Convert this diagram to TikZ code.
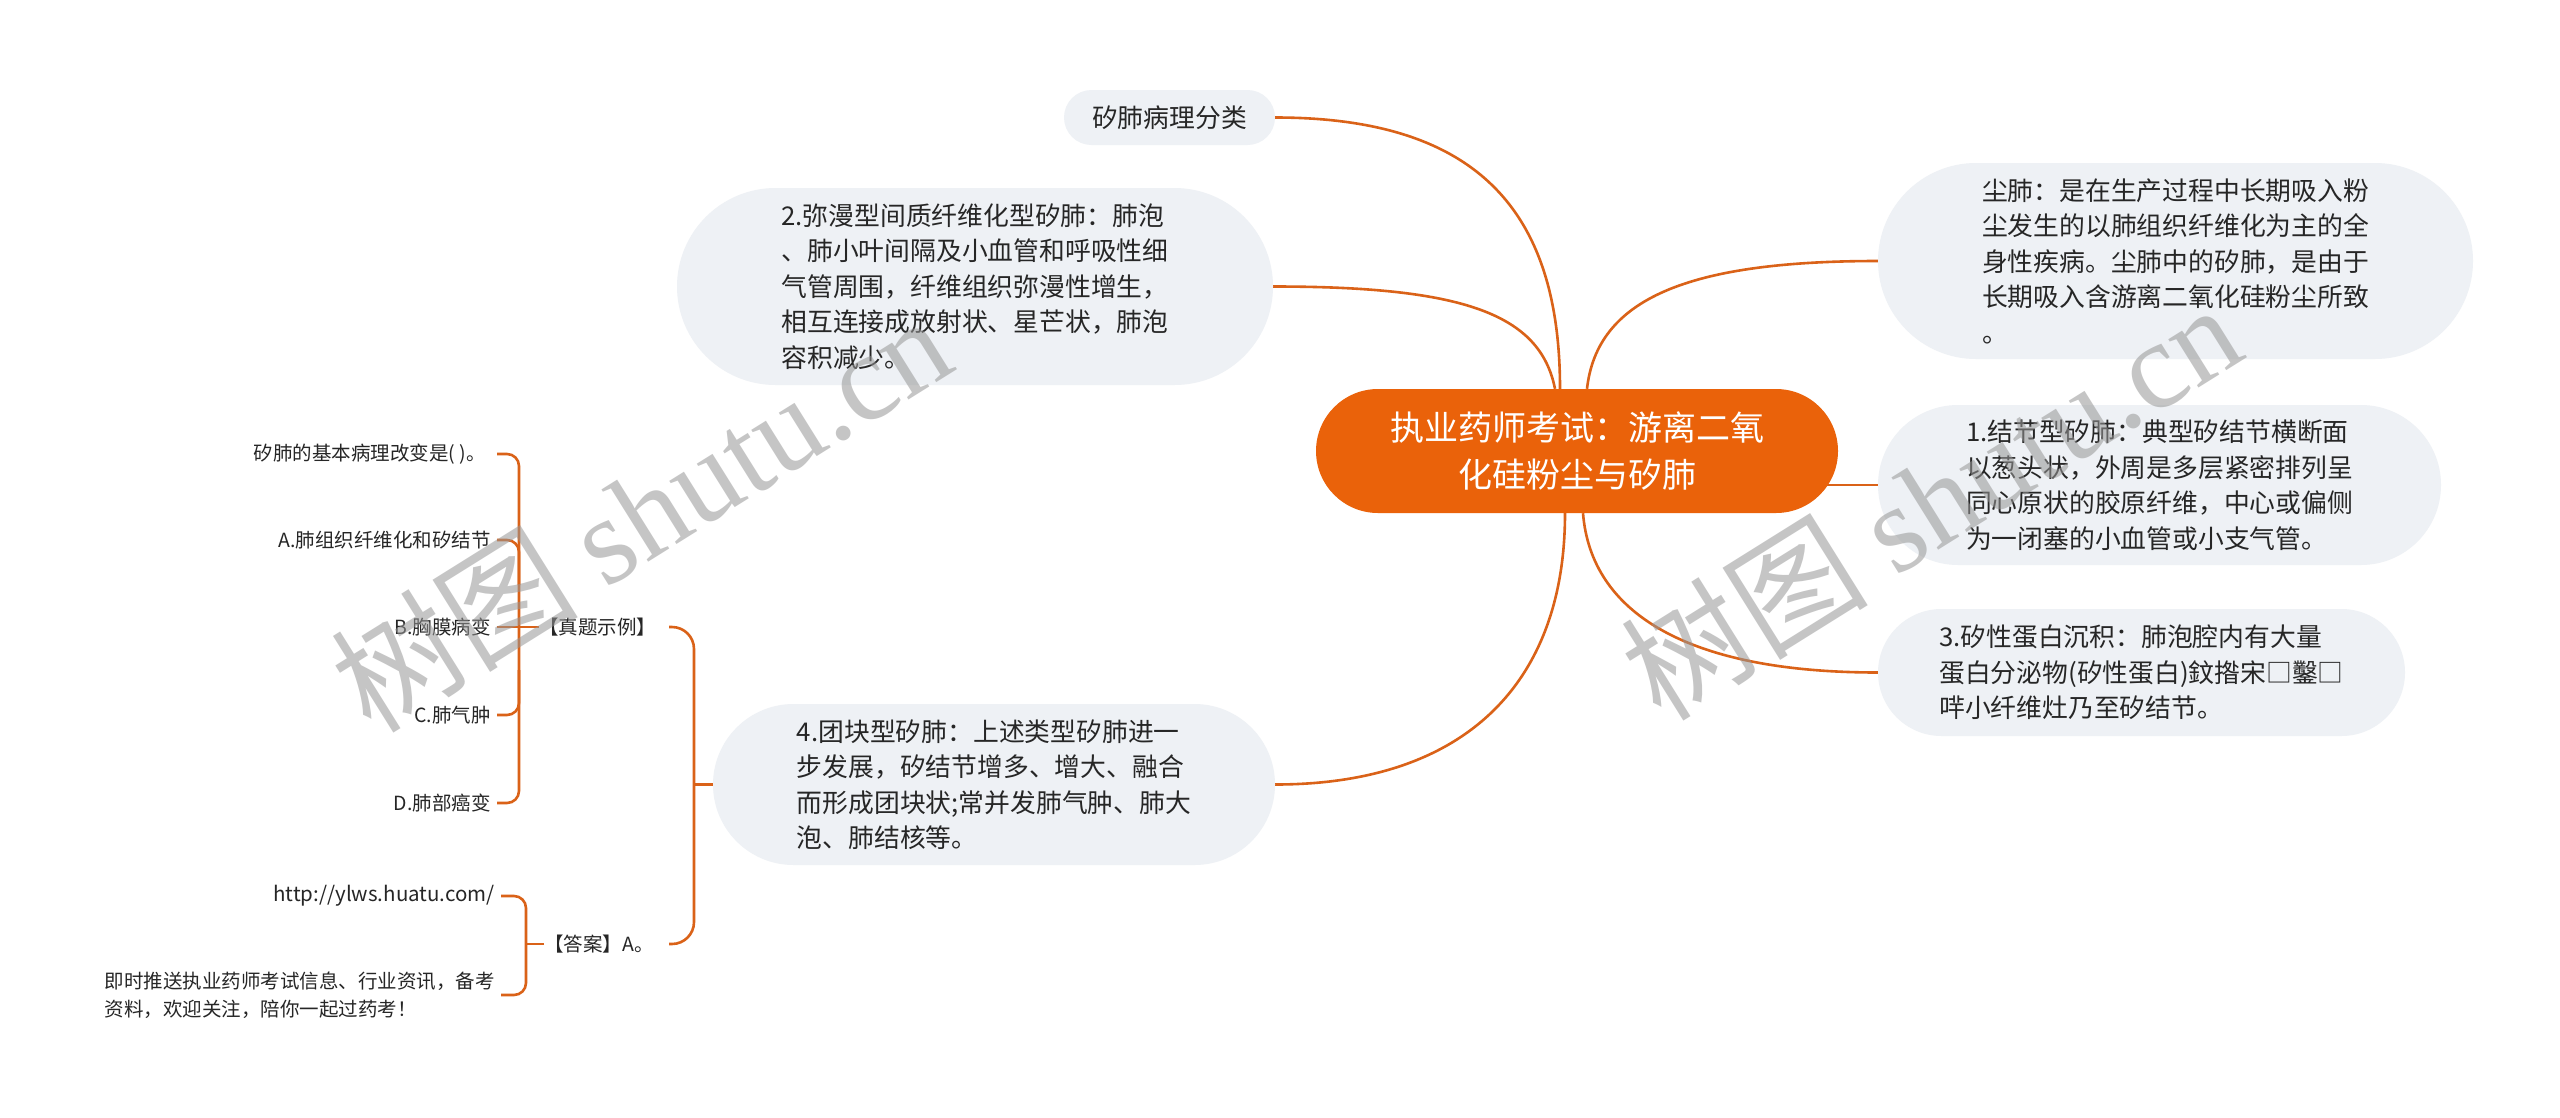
\documentclass[tikz,border=0pt]{standalone}
\usepackage{fontspec}
\setmainfont{Noto Sans CJK SC}
\newfontfamily\wmlatin{Liberation Serif}
\usetikzlibrary{shapes.misc,backgrounds}
\definecolor{rootorange}{RGB}{234,98,10}
\definecolor{linec}{RGB}{218,98,24}
\definecolor{nodefill}{RGB}{238,241,245}
\definecolor{txt}{RGB}{38,38,38}
\definecolor{wmgray}{RGB}{150,150,150}
\tikzset{
  pill/.style={rounded rectangle, fill=nodefill, text=txt, align=left, inner sep=0pt,
    font=\fontsize{25.8pt}{35.5pt}\selectfont},
  leaf/.style={inner xsep=6pt, inner ysep=0pt, text=txt, align=left,
    font=\fontsize{19.5pt}{28pt}\selectfont},
  conn/.style={draw=linec, line width=2.6pt},
  wm/.style={text=wmgray, text opacity=0.55, inner sep=0pt,
    font=\fontsize{124pt}{124pt}\selectfont}
}
\begin{document}
\begin{tikzpicture}[x=1pt,y=-1pt]
\useasboundingbox (0,0) rectangle (2560,1117);

% central topic
\node[pill, minimum width=522pt, minimum height=124pt, fill=rootorange, text=white,
  align=center, font=\fontsize{34pt}{47pt}\selectfont] (C) at (1577,451)
  {执业药师考试：游离二氧\\化硅粉尘与矽肺};

% left branches
\node[pill, minimum width=211pt, minimum height=55pt] (L0) at (1169.5,117.5) {矽肺病理分类};
\node[pill, minimum width=596pt, minimum height=197pt] (N2) at (975,286.5)
  {2.弥漫型间质纤维化型矽肺：肺泡\\、肺小叶间隔及小血管和呼吸性细\\气管周围，纤维组织弥漫性增生，\\相互连接成放射状、星芒状，肺泡\\容积减少。};
\node[pill, minimum width=562pt, minimum height=161pt] (N4) at (994,784.5)
  {4.团块型矽肺：上述类型矽肺进一\\步发展，矽结节增多、增大、融合\\而形成团块状;常并发肺气肿、肺大\\泡、肺结核等。};

% right branches
\node[pill, minimum width=595pt, minimum height=196pt] (R0) at (2175.5,261)
  {尘肺：是在生产过程中长期吸入粉\\尘发生的以肺组织纤维化为主的全\\身性疾病。尘肺中的矽肺，是由于\\长期吸入含游离二氧化硅粉尘所致\\。};
\node[pill, minimum width=563pt, minimum height=160pt] (R1) at (2159.5,485)
  {1.结节型矽肺：典型矽结节横断面\\以葱头状，外周是多层紧密排列呈\\同心原状的胶原纤维，中心或偏侧\\为一闭塞的小血管或小支气管。};
\node[pill, minimum width=527pt, minimum height=127pt] (R3) at (2141.5,672.5)
  {3.矽性蛋白沉积：肺泡腔内有大量\\蛋白分泌物(矽性蛋白)鈫揝宋□鑿□\\哶小纤维灶乃至矽结节。};

% sub-branches of node 4
\node[leaf, anchor=west, inner xsep=0pt] (ZT) at (539,627) {【真题示例】};
\node[leaf, anchor=west, inner xsep=0pt] (DA) at (544,944) {【答案】A。};

\node[leaf, anchor=east] (Q) at (492,454) {矽肺的基本病理改变是( )。};
\node[leaf, anchor=east] (A) at (497,540) {A.肺组织纤维化和矽结节};
\node[leaf, anchor=east] (B) at (497,627) {B.胸膜病变};
\node[leaf, anchor=east] (Cc) at (497,715) {C.肺气肿};
\node[leaf, anchor=east] (D) at (497,803) {D.肺部癌变};

\node[leaf, anchor=east, font=\fontsize{20.5pt}{28pt}\selectfont] (U) at (501,896) {http://ylws.huatu.com/};
\node[leaf, anchor=east] (T) at (501,995) {即时推送执业药师考试信息、行业资讯，备考\\资料，欢迎关注，陪你一起过药考！};

\begin{scope}[on background layer]
\fill[white] (0,0) rectangle (2560,1117);
% central connectors
\draw[conn] (L0.east) .. controls +(200,0) and +(0,-180) .. ([xshift=-17pt]C.north);
\draw[conn] (N2.east) .. controls +(190,0) and +(-15,-75) .. ([xshift=-22pt]C.north);
\draw[conn] (N4.east) .. controls +(190,0) and +(0,170) .. ([xshift=-12pt]C.south);
\draw[conn] (R0.west) .. controls +(-190,0) and +(10,-90) .. ([xshift=10pt]C.north);
\draw[conn] (R1.west) -- (R1.west -| 1800,0);
\draw[conn] (R3.west) .. controls +(-190,0) and +(8,100) .. ([xshift=6pt]C.south);
% bracket to the two sub-branches
\draw[conn, rounded corners=22pt] (ZT.east -| 669,0) -- (694,627) -- (694,944) -- (DA.east -| 669,0);
\draw[conn] (N4.west) -- (N4.west -| 694,0);
% question bracket
\draw[conn, rounded corners=12pt] (Q.east -| 497,0) -- (519,454) -- (519,803) -- (D.east);
\draw[conn, rounded corners=12pt] (A.east) -| (519,585);
\draw[conn, rounded corners=12pt] (Cc.east) -| (519,670);
\draw[conn] (B.east) -- (ZT.west);
% answer bracket
\draw[conn, rounded corners=12pt] (U.east) -- (U.east -| 526,0) -- (T.east -| 526,0) -- (T.east);
\draw[conn] (DA.west) -- (DA.west -| 526,0);
\end{scope}

% watermarks
\node[wm, rotate=32] (W1) at (640,512) {树图 {\wmlatin shutu.cn}};
\node[wm, rotate=32] (W2) at (1930,500) {树图 {\wmlatin shutu.cn}};
\end{tikzpicture}
\end{document}
